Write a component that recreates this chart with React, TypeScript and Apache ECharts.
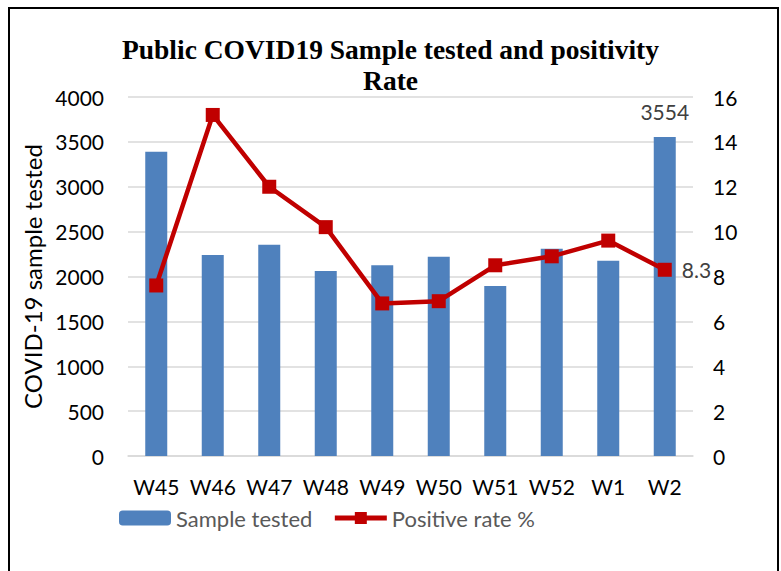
import React, { useEffect, useRef } from "react";
import * as echarts from "echarts";

const categories = ["W45", "W46", "W47", "W48", "W49", "W50", "W51", "W52", "W1", "W2"];
const sampleTested = [3390, 2240, 2355, 2060, 2125, 2220, 1895, 2310, 2175, 3554];
const positiveRate = [7.6, 15.2, 12.0, 10.2, 6.8, 6.9, 8.5, 8.9, 9.6, 8.3];
const titleText = "Public COVID19 Sample tested and positivity\nRate";

const FONT = "Lato, 'Open Sans', sans-serif";

export default function App() {
  const ref = useRef<HTMLDivElement>(null);
  useEffect(() => {
    if (!ref.current) return;
    const chart = echarts.init(ref.current, null, { renderer: "svg" });
    const last = sampleTested.length - 1;
    chart.setOption({
      animation: false,
      backgroundColor: "#ffffff",
      title: {
        text: titleText,
        left: "center",
        top: 29,
        textStyle: {
          fontFamily: "'Liberation Serif', 'Times New Roman', serif",
          fontWeight: "bold",
          fontSize: 27.5,
          lineHeight: 31,
          color: "#000",
        },
      },
      graphic: [
        {
          type: "rect",
          shape: { x: 9, y: 8, width: 769, height: 620 },
          style: { fill: "none", stroke: "#000", lineWidth: 2 },
          silent: true,
        },
      ],
      grid: { left: 128, right: 88, top: 97, bottom: 115 },
      legend: {
        left: 114,
        top: 502,
        itemWidth: 52,
        itemHeight: 15,
        itemGap: 20,
        textStyle: { fontFamily: FONT, fontSize: 22, color: "#595959" },
        data: [
          { name: "Sample tested" },
          {
            name: "Positive rate %",
            lineStyle: { width: 5, color: "#c00000" },
            itemStyle: { color: "#c00000" },
          },
        ],
      },
      xAxis: {
        type: "category",
        data: categories,
        axisLine: { show: true, lineStyle: { color: "#d9d9d9", width: 1.5 } },
        axisTick: { show: false },
        axisLabel: { fontFamily: FONT, fontSize: 21, color: "#000", margin: 20, interval: 0 },
      },
      yAxis: [
        {
          type: "value",
          min: 0,
          max: 4000,
          interval: 500,
          name: "COVID-19 sample tested",
          nameLocation: "middle",
          nameGap: 74,
          nameTextStyle: { fontFamily: FONT, fontSize: 24, color: "#000" },
          axisLabel: {
            fontFamily: FONT,
            fontSize: 21,
            color: "#000",
            margin: 24,
            formatter: (v: number) => String(v),
          },
          splitLine: { lineStyle: { color: "#d9d9d9", width: 1.5 } },
          axisLine: { show: false },
          axisTick: { show: false },
        },
        {
          type: "value",
          min: 0,
          max: 16,
          interval: 2,
          axisLabel: { fontFamily: FONT, fontSize: 21, color: "#000", margin: 20 },
          splitLine: { show: false },
          axisLine: { show: false },
          axisTick: { show: false },
        },
      ],
      series: [
        {
          name: "Sample tested",
          type: "bar",
          barWidth: 22,
          itemStyle: { color: "#4f81bd" },
          data: sampleTested.map((v, i) =>
            i === last
              ? {
                  value: v,
                  label: {
                    show: true,
                    position: "top",
                    distance: 15,
                    fontFamily: FONT,
                    fontSize: 21,
                    color: "#404040",
                  },
                }
              : v
          ),
        },
        {
          name: "Positive rate %",
          type: "line",
          yAxisIndex: 1,
          symbol: "rect",
          symbolSize: 14,
          lineStyle: { color: "#c00000", width: 4.5 },
          itemStyle: { color: "#c00000" },
          data: positiveRate.map((v, i) =>
            i === last
              ? {
                  value: v,
                  label: {
                    show: true,
                    position: "right",
                    distance: 10,
                    fontFamily: FONT,
                    fontSize: 21,
                    color: "#404040",
                  },
                }
              : v
          ),
        },
      ],
    });
    return () => chart.dispose();
  }, []);
  return (
    <div
      ref={ref}
      style={{ position: "fixed", left: 0, top: 0, width: 781, height: 571 }}
    />
  );
}
